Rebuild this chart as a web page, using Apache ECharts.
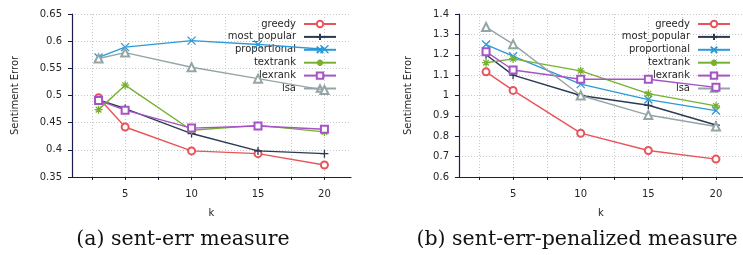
<!DOCTYPE html>
<html>
<head>
<meta charset="utf-8">
<script src="https://cdn.jsdelivr.net/npm/echarts@6/dist/echarts.min.js"></script>
<style>
html,body{margin:0;padding:0;background:#fff;}
#c{width:743px;height:255px;}
</style>
</head>
<body>
<div id="c"></div>
<script>
// ---- data ----
const kValues = [3, 5, 10, 15, 20];
const seriesNames = ['greedy', 'most_popular', 'proportional', 'textrank', 'lexrank', 'lsa'];

// (a) sent-err measure
const errGreedy       = [0.496, 0.442, 0.398, 0.393, 0.372];
const errMostPopular  = [0.492, 0.476, 0.430, 0.398, 0.393];
const errProportional = [0.570, 0.589, 0.601, 0.594, 0.585];
const errTextrank     = [0.474, 0.519, 0.436, 0.445, 0.433];
const errLexrank      = [0.491, 0.473, 0.440, 0.444, 0.438];
const errLsa          = [0.568, 0.579, 0.552, 0.531, 0.510];

// (b) sent-err-penalized measure
const penGreedy       = [1.116, 1.025, 0.815, 0.730, 0.688];
const penMostPopular  = [1.200, 1.100, 1.000, 0.952, 0.855];
const penProportional = [1.250, 1.193, 1.056, 0.980, 0.926];
const penTextrank     = [1.161, 1.180, 1.121, 1.009, 0.949];
const penLexrank      = [1.215, 1.125, 1.080, 1.080, 1.040];
const penLsa          = [1.336, 1.252, 1.000, 0.904, 0.848];

const xLabelValues = [5, 10, 15, 20];
const xTickValues = [2.5, 5, 7.5, 10, 12.5, 15, 17.5, 20];

const captions = ['(a) sent-err measure', '(b) sent-err-penalized measure'];

// ---- styles ----
const colors = ['#e8545a', '#2b3a52', '#2a9ad8', '#78b12f', '#a653c5', '#95a5a6'];
const symbols = [
  'emptyCircle',
  'path://M0,5L10,5M5,0L5,10',
  'path://M1,1L9,9M9,1L1,9',
  'path://M0,5L10,5M5,0L5,10M1.5,1.5L8.5,8.5M8.5,1.5L1.5,8.5',
  'emptyRect',
  'emptyTriangle'
];
const symbolSizes = [7, 8, 8, 8, 7, 8];

const leftData = [errGreedy, errMostPopular, errProportional, errTextrank, errLexrank, errLsa];
const rightData = [penGreedy, penMostPopular, penProportional, penTextrank, penLexrank, penLsa];

const axisColor = '#1c1c48';
const textColor = '#262626';
const font = 'DejaVu Sans';

function makeX(gridIndex) {
  return {
    type: 'value', gridIndex, min: 1, max: 22,
    name: 'k', nameLocation: 'middle', nameGap: 31,
    nameTextStyle: { fontFamily: font, fontSize: 10, color: textColor },
    axisLine: { show: true, lineStyle: { color: axisColor, width: 1.2 } },
    axisTick: { show: true, customValues: xTickValues, length: 3, lineStyle: { color: axisColor } },
    axisLabel: { customValues: xLabelValues, margin: 12, fontFamily: font, fontSize: 10, color: textColor },
    splitLine: { show: true, lineStyle: { color: '#c8c8c8', type: [1, 2], width: 1 } }
  };
}
function makeY(gridIndex, min, max, interval, nameGap) {
  return {
    type: 'value', gridIndex, min, max, interval,
    name: 'Sentiment Error', nameLocation: 'middle', nameGap,
    nameTextStyle: { fontFamily: font, fontSize: 10, color: textColor },
    axisLine: { show: true, lineStyle: { color: axisColor, width: 1.2 } },
    axisTick: { show: true, length: 4, lineStyle: { color: axisColor } },
    axisLabel: { margin: 10, fontFamily: font, fontSize: 10, color: textColor },
    splitLine: { show: true, lineStyle: { color: '#c8c8c8', type: [1, 2], width: 1 } }
  };
}

const series = [];
[leftData, rightData].forEach((set, gi) => {
  set.forEach((vals, i) => {
    series.push({
      type: 'line', name: seriesNames[i],
      xAxisIndex: gi, yAxisIndex: gi,
      data: kValues.map((k, j) => [k, vals[j]]),
      symbol: symbols[i], symbolSize: symbolSizes[i],
      color: colors[i],
      lineStyle: { color: colors[i], width: 1.4 },
      itemStyle: { color: colors[i], borderColor: colors[i], borderWidth: 1.3 },
      showAllSymbol: true,
      animation: false, z: 3 + i
    });
  });
});

function makeLegend(right) {
  return {
    orient: 'vertical', right, top: 19, padding: 0,
    align: 'right', itemWidth: 32, itemHeight: 8, itemGap: 2.9,
    data: seriesNames,
    selectedMode: false,
    textStyle: { fontFamily: font, fontSize: 10, color: textColor, lineHeight: 8, padding: [0, 3, 0, 0] }
  };
}

const option = {
  backgroundColor: '#fff',
  animation: false,
  grid: [
    { left: 72, top: 14, width: 279, height: 163 },
    { left: 459, top: 14, width: 286, height: 163 }
  ],
  xAxis: [makeX(0), makeX(1)],
  yAxis: [makeY(0, 0.35, 0.65, 0.05, 52), makeY(1, 0.6, 1.4, 0.1, 46)],
  legend: [makeLegend(743 - 337), makeLegend(743 - 731)],
  title: [
    { text: captions[0], left: 183, top: 229, textAlign: 'center', padding: 0,
      textStyle: { fontFamily: 'DejaVu Serif', fontWeight: 'normal', fontSize: 20.5, color: '#111' } },
    { text: captions[1], left: 577, top: 229, textAlign: 'center', padding: 0,
      textStyle: { fontFamily: 'DejaVu Serif', fontWeight: 'normal', fontSize: 20.5, color: '#111' } }
  ],
  series
};

const chart = echarts.init(document.getElementById('c'), null, { renderer: 'canvas' });
chart.setOption(option);
</script>
</body>
</html>
